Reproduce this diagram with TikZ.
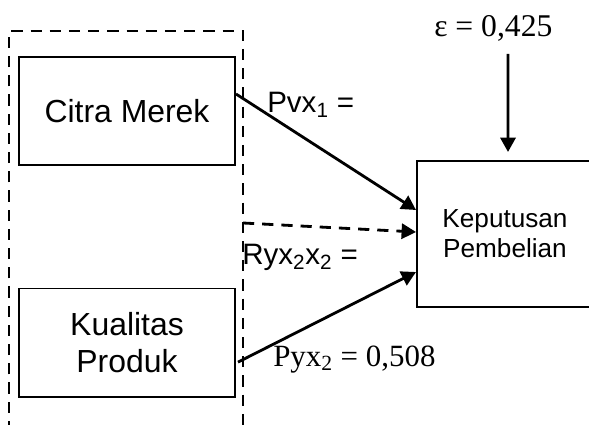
\documentclass[tikz,border=0pt]{standalone}
\usepackage{fontspec}
\setmainfont{Liberation Sans}
\newfontfamily\rumusfont{Liberation Serif}
\usetikzlibrary{arrows.meta}

\tikzset{
    kotak/.style={draw, line width=1.4pt, minimum width=5.4cm, minimum height=2.7cm, align=center, font=\fontsize{22.7}{26}\selectfont},
    panah/.style={line width=2pt, -{Triangle[length=0.36cm,width=0.38cm]}},
    label/.style={anchor=base west, inner sep=0pt}
}

\begin{document}
\begin{tikzpicture}[x=0.025cm, y=-0.025cm]
        \useasboundingbox (0,0) rectangle (589,425);

        % Kelompok variabel bebas
        \draw[line width=2pt, dash pattern=on 0.28cm off 0.2cm] (9,432) -- (9,31) -- (243,31) -- (243,432);

        \node[kotak] (citra) at (127,111) {Citra Merek};
        \node[kotak] (kualitas) at (127,342.5) {Kualitas\\Produk};
        \node[kotak, minimum width=4.4cm, minimum height=3.65cm, font=\fontsize{18.6}{21.5}\selectfont] (keputusan) at (505,234) {Keputusan\\Pembelian};

        % Jalur
        \draw[panah] ([yshift=0.425cm]citra.east) -- ([yshift=0.6cm]keputusan.west);
        \coordinate (korelasi) at (243,223);
        \draw[panah, dash pattern=on 0.28cm off 0.2cm] (korelasi) -- ([yshift=0.05cm]keputusan.west);
        \draw[panah] ([xshift=0.05cm,yshift=-0.49cm]kualitas.east) -- ([yshift=-0.95cm]keputusan.west);

        % Error
        \coordinate (epsawal) at (508,54);
        \draw[panah] (epsawal) -- ([xshift=0.075cm,yshift=0.2cm]keputusan.north);

        % Labels
        \node[label, font=\rumusfont\fontsize{22.5}{25}\selectfont] (eps) at (434,37) {ε = 0,425};
        \node[label, font=\fontsize{21}{24}\selectfont] (pvx) at (267,113) {Pvx\textsubscript{1} =};
        \node[label, font=\fontsize{21}{24}\selectfont] (ryx) at (242,265) {Ryx\textsubscript{2}x\textsubscript{2} =};
        \node[label, font=\rumusfont\fontsize{22}{25}\selectfont] (pyx) at (273,366) {Pyx\textsubscript{2} = 0,508};
    \end{tikzpicture}
\end{document}
